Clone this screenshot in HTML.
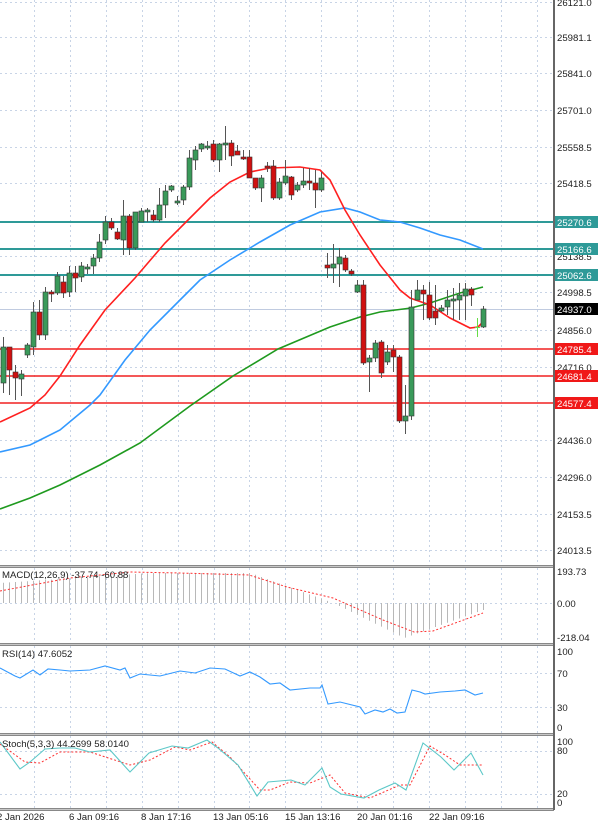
<!DOCTYPE html>
<html><head><meta charset="utf-8">
<style>
html,body{margin:0;padding:0;background:#fff;}
svg{display:block;font-family:"Liberation Sans",sans-serif;}
</style></head>
<body>
<svg id="s" width="600" height="825" viewBox="0 0 600 825" xmlns="http://www.w3.org/2000/svg"></svg>
<script>
const s=document.getElementById('s');let h='';
const W=553;
// grid
const gx=[];for(let x=34;x<W;x+=35.9)gx.push(Math.round(x));
const panels=[[0,565],[568,643],[646,733],[736,808]];
panels.forEach(p=>{gx.forEach(x=>{h+=`<line x1="${x+.5}" y1="${p[0]}" x2="${x+.5}" y2="${p[1]}" stroke="#c8d4e6" stroke-dasharray="2,3"/>`;});});
const ticks=[[26121.0,2],[25981.1,37],[25841.0,73],[25701.0,110],[25558.5,147],[25418.5,183],[25138.5,256],[24998.5,292],[24856.0,330],[24716.0,367],[24436.0,440],[24296.0,477],[24153.5,514],[24013.5,550]];
ticks.forEach(t=>{h+=`<line x1="0" y1="${t[1]+.5}" x2="${W}" y2="${t[1]+.5}" stroke="#c8d4e6" stroke-dasharray="2,3"/>`;});
[[603],[673],[707],[751],[794]].forEach(t=>{h+=`<line x1="0" y1="${t[0]+.5}" x2="${W}" y2="${t[0]+.5}" stroke="#c8d4e6" stroke-dasharray="2,3"/>`;});
// current price line
h+=`<line x1="0" y1="309.5" x2="${W}" y2="309.5" stroke="#c0cbe0"/>`;
// teal / red levels
[222,249,275].forEach(y=>h+=`<line x1="0" y1="${y}" x2="${W}" y2="${y}" stroke="#2e9a98" stroke-width="2"/>`);
[349,376,403].forEach(y=>h+=`<line x1="0" y1="${y}" x2="${W}" y2="${y}" stroke="#f02020" stroke-width="1.6"/>`);
// MAs
function pl(pts,c,w,d){return `<polyline fill="none" stroke="${c}" stroke-width="${w}" ${d?'stroke-dasharray="'+d+'"':''} points="${pts.map(p=>p.join(',')).join(' ')}"/>`;}
h+=pl([[0,509],[30,498],[60,485],[100,465],[140,443],[190,406],[233,376],[278,349],[330,327],[360,317],[380,312],[411,308],[430,303],[460,293],[483,287]],'#1f9a1f',1.6);
h+=pl([[0,452],[30,445],[40,440],[60,430],[90,405],[100,395],[125,360],[150,330],[180,300],[200,280],[230,260],[260,242],[290,225],[320,212],[345,208],[360,212],[380,220],[400,222],[420,228],[440,235],[460,240],[483,249]],'#3399ff',1.6);
h+=pl([[0,422],[30,408],[45,395],[60,376],[80,345],[105,310],[135,278],[165,243],[190,218],[210,198],[230,182],[250,172],[270,168],[300,167],[320,170],[330,180],[345,210],[360,235],[380,265],[400,290],[410,298],[430,305],[450,318],[470,328],[478,327],[483,322]],'#ff2020',1.6);
// candles: x, top, bottom, wickTop, wickBot, color(g/r)
const C=[[3,347,383,337,393,'g'],[9,347,370,347,395,'r'],[15,372,378,365,400,'r'],[21,374,379,370,396,'g'],[27,345,355,343,358,'g'],[33,312,347,302,355,'g'],[39,312,335,300,340,'r'],[45,292,335,287,340,'g'],[51,292,294,290,302,'r'],[57,276,293,272,295,'g'],[63,282,293,276,298,'r'],[69,273,292,266,297,'g'],[75,273,278,266,292,'r'],[81,266,277,262,282,'g'],[87,267,269,264,274,'g'],[93,258,266,254,274,'g'],[99,242,258,234,262,'g'],[105,222,240,216,244,'g'],[111,222,228,218,230,'r'],[117,232,239,228,240,'r'],[123,216,240,200,255,'g'],[129,216,248,214,255,'r'],[135,212,248,212,250,'g'],[141,211,222,208,222,'g'],[147,210,212,208,222,'g'],[153,215,220,210,222,'r'],[159,205,220,188,222,'g'],[165,191,205,185,218,'g'],[171,186,190,185,192,'g'],[177,201,203,196,205,'g'],[183,187,200,185,205,'g'],[189,158,187,150,190,'g'],[195,150,160,146,170,'g'],[201,144,149,143,152,'g'],[207,146,148,141,150,'g'],[213,144,160,140,162,'r'],[219,144,160,143,172,'g'],[225,143,145,126,160,'g'],[231,143,156,140,166,'r'],[237,151,155,145,155,'r'],[243,157,159,150,160,'r'],[249,157,178,150,178,'r'],[255,178,188,178,190,'r'],[261,178,188,175,202,'g'],[267,166,168,162,172,'r'],[273,166,198,160,200,'r'],[279,182,198,178,200,'g'],[285,176,183,160,185,'g'],[291,177,195,176,200,'r'],[297,185,190,182,192,'g'],[303,181,185,168,188,'g'],[309,181,183,168,190,'r'],[315,183,190,170,208,'r'],[321,178,190,172,192,'g'],
[327,265,268,253,278,'r'],[333,264,268,244,283,'g'],[339,257,264,248,287,'g'],[345,258,270,255,272,'r'],[351,271,274,269,276,'r'],[357,285,292,280,293,'g'],[363,285,363,280,365,'r'],[369,358,362,355,392,'g'],[375,343,358,340,362,'g'],[381,342,373,340,378,'r'],[387,352,362,345,365,'g'],[393,350,357,345,372,'r'],[399,357,421,355,423,'r'],[405,416,421,385,434,'g'],[411,307,416,290,420,'g'],[417,290,300,280,300,'g'],[423,290,294,285,320,'r'],[429,295,318,282,320,'r'],[435,311,318,285,325,'r'],[441,308,311,305,312,'g'],[447,300,307,290,315,'g'],[453,299,301,288,320,'g'],[459,295,300,283,320,'g'],[465,289,296,283,320,'g'],[471,289,295,287,306,'r'],[483,309,327,306,328,'g']];
C.forEach(c=>{const[x,t,b,wt,wb,col]=c;h+=`<line x1="${x+.5}" y1="${wt}" x2="${x+.5}" y2="${wb}" stroke="#555"/>`;
h+=`<rect x="${x-2}" y="${t}" width="5" height="${Math.max(1,b-t)}" fill="${col=='g'?'#3a9a5a':'#d01010'}" stroke="#333" stroke-width="0.6"/>`;});
h+=`<line x1="477.5" y1="318" x2="477.5" y2="337" stroke="#66dd44"/><line x1="475" y1="327.5" x2="480" y2="327.5" stroke="#66dd44"/>`;
// MACD histogram
for(let x=3;x<=483;x+=6){let v;
 if(x<150)v=583-(x/150)*10; else if(x<250)v=573; else if(x<333)v=573+(x-250)/83*30;
 else if(x<404)v=603+(x-333)/71*35; else v=638-(x-404)/79*28;
 h+=`<line x1="${x+.5}" y1="603" x2="${x+.5}" y2="${v}" stroke="#b8b8b8"/>`;}
h+=pl([[0,591],[70,578],[130,572],[180,573],[249,575],[287,587],[333,598],[383,620],[414,632],[433,631],[483,613]],'#ff3030',1,'2,2');
// RSI
h+=pl([[0,668],[15,676],[20,678],[33,670],[40,675],[48,669],[60,670],[70,671],[90,670],[105,666],[120,670],[125,668],[130,678],[140,674],[160,676],[180,671],[195,673],[210,668],[225,669],[240,676],[250,672],[260,677],[270,684],[280,683],[290,690],[310,688],[320,688],[322,685],[328,704],[340,702],[360,707],[365,714],[375,710],[383,712],[390,709],[397,713],[405,712],[412,690],[420,692],[425,694],[440,692],[455,691],[465,690],[475,695],[483,693]],'#3399ff',1.1);
// Stoch
h+=pl([[0,744],[25,762],[40,763],[60,752],[90,752],[130,765],[150,760],[175,747],[190,750],[212,742],[230,757],[260,790],[270,790],[290,782],[310,783],[330,775],[345,793],[370,798],[400,785],[410,785],[430,746],[445,755],[460,765],[483,765]],'#ff3030',1,'2,2');
h+=pl([[0,742],[20,769],[30,762],[45,749],[60,748],[75,748],[90,752],[110,750],[130,772],[149,753],[172,746],[188,748],[207,740],[218,748],[238,765],[257,796],[268,782],[291,780],[305,785],[322,768],[330,787],[341,794],[364,798],[379,790],[395,783],[406,790],[423,743],[441,757],[454,770],[471,753],[483,775]],'#5cc8c8',1.1);
// panel separators
[[565],[643],[733],[808]].forEach(p=>{h+=`<rect x="0" y="${p[0]}" width="${W+1}" height="3" fill="#888"/><line x1="0" y1="${p[0]+1.5}" x2="${W}" y2="${p[0]+1.5}" stroke="#ddd" stroke-width="0.8"/>`;});
h+=`<rect x="${W}" y="0" width="2" height="810" fill="#666"/>`;
// right axis labels
const fs='font-size="9.6" fill="#222"';
ticks.forEach(t=>h+=`<text x="557" y="${t[1]+4}" ${fs}>${t[0].toFixed(1)}</text>`);
function box(y,txt,bg){h+=`<rect x="555" y="${y-6}" width="43" height="12" fill="${bg}"/><text x="557" y="${y+4}" font-size="9.6" fill="#fff">${txt}</text>`;}
box(222,'25270.6','#2e9a98');box(249,'25166.6','#2e9a98');box(275,'25062.6','#2e9a98');box(309,'24937.0','#000');
box(349,'24785.4','#f01818');box(376,'24681.4','#f01818');box(403,'24577.4','#f01818');
[[575,'193.73'],[607,'0.00'],[641,'-218.04'],[655,'100'],[677,'70'],[711,'30'],[731,'0'],[745,'100'],[754,'80'],[797,'20'],[806,'0']].forEach(t=>h+=`<text x="557" y="${t[0]}" ${fs}>${t[1]}</text>`);
// panel titles
[[2,578,'MACD(12,26,9) -37.74 -60.88'],[2,657,'RSI(14) 47.6052'],[2,747,'Stoch(5,3,3) 44.2699 58.0140']].forEach(t=>h+=`<text x="${t[0]}" y="${t[1]}" font-size="9.6" fill="#222">${t[2]}</text>`);
// dates
[[-3,'2 Jan 2026'],[69,'6 Jan 09:16'],[141,'8 Jan 17:16'],[213,'13 Jan 05:16'],[285,'15 Jan 13:16'],[357,'20 Jan 01:16'],[429,'22 Jan 09:16']].forEach(t=>h+=`<text x="${t[0]}" y="820" font-size="9.6" fill="#222">${t[1]}</text>`);
s.innerHTML=h;
</script>
</body></html>
